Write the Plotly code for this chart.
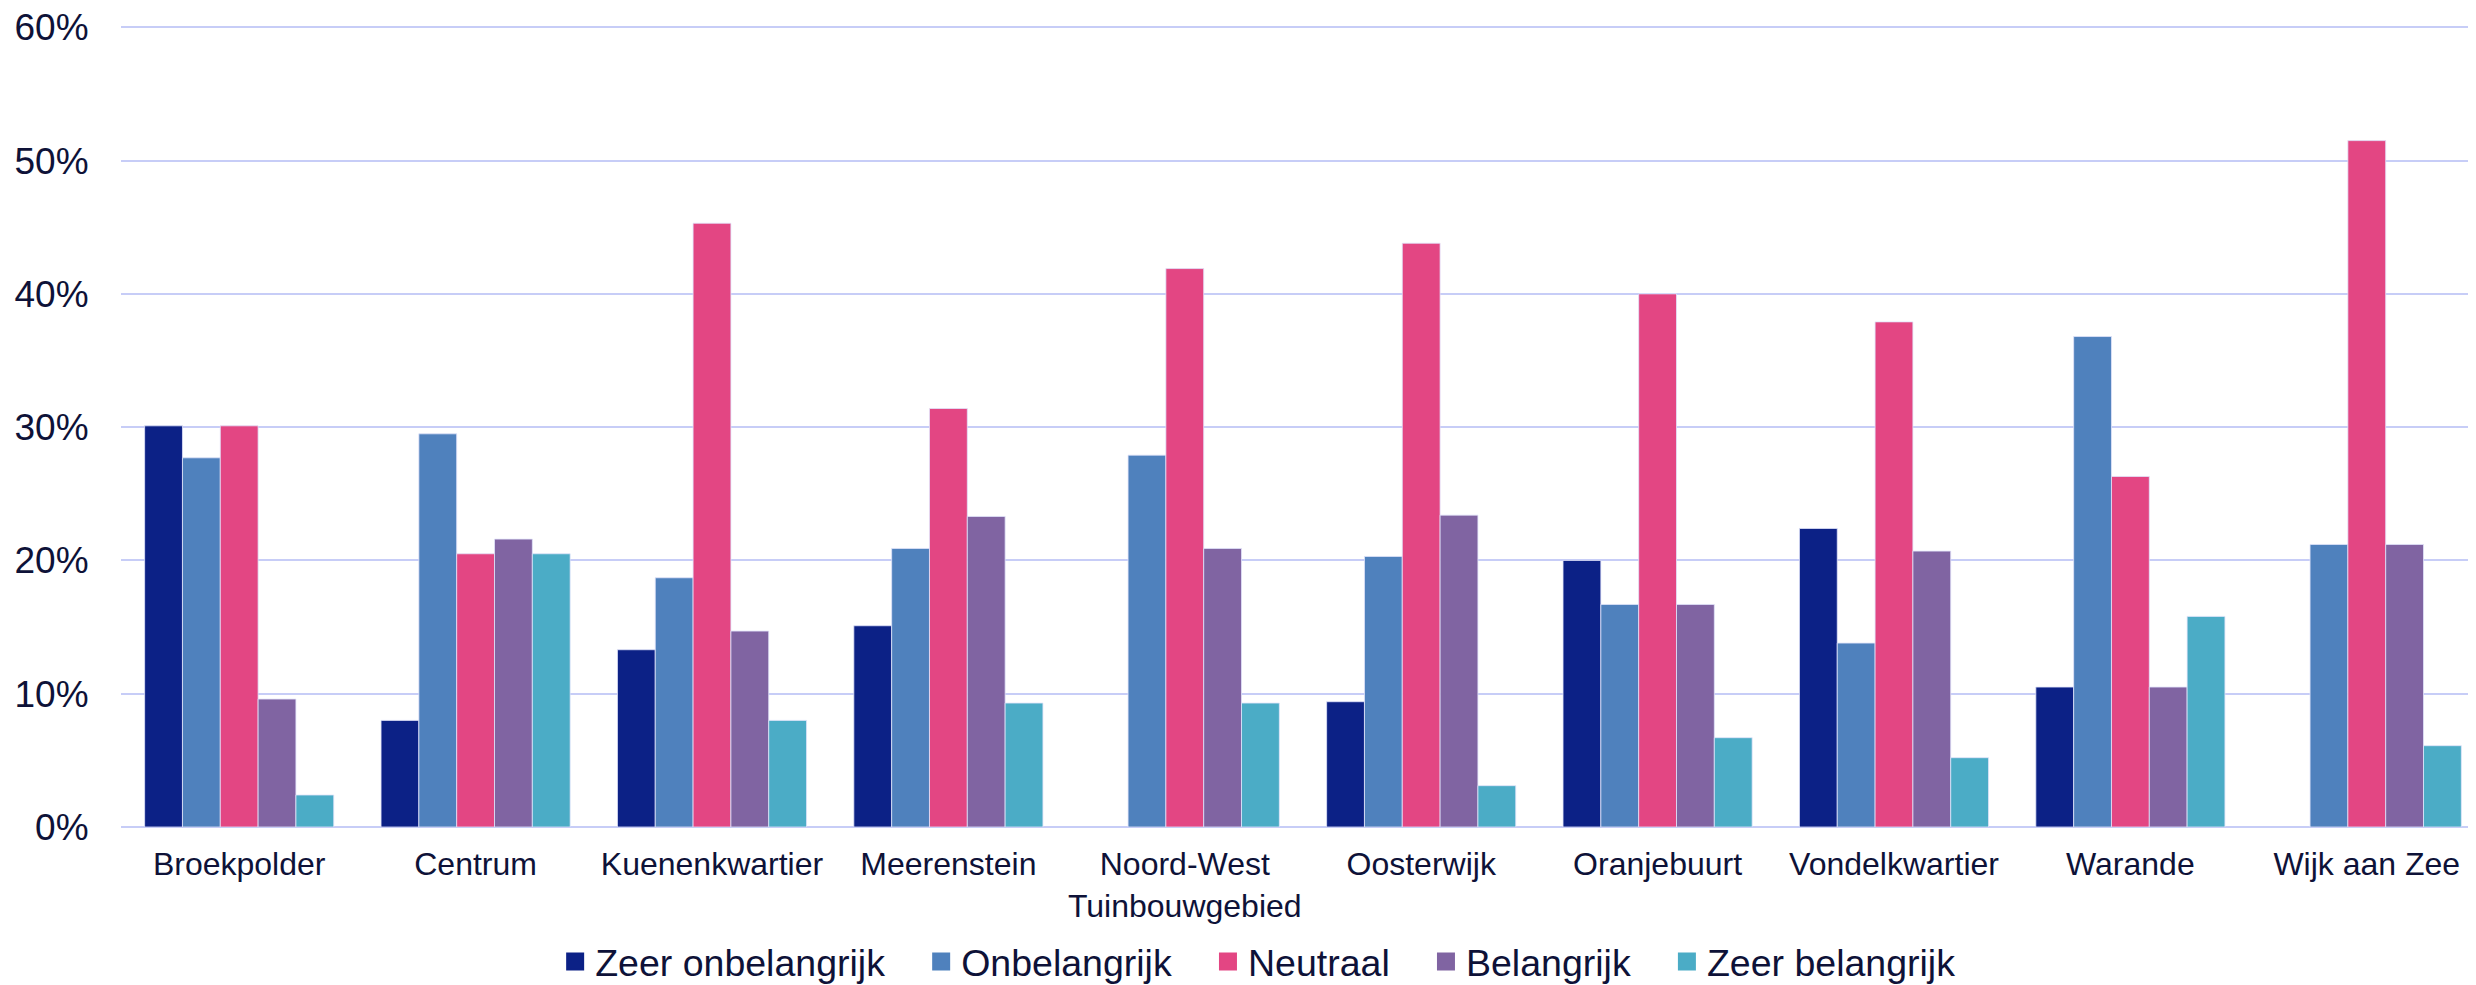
import plotly.graph_objects as go

wijken = ["Broekpolder", "Centrum", "Kuenenkwartier", "Meerenstein", "Noord-West<br>Tuinbouwgebied",
          "Oosterwijk", "Oranjebuurt", "Vondelkwartier", "Warande", "Wijk aan Zee"]

zeer_onbelangrijk = [0.301, 0.080, 0.133, 0.151, 0.000, 0.094, 0.200, 0.224, 0.105, 0.000]
onbelangrijk = [0.277, 0.295, 0.187, 0.209, 0.279, 0.203, 0.167, 0.138, 0.368, 0.212]
neutraal = [0.301, 0.205, 0.453, 0.314, 0.419, 0.438, 0.400, 0.379, 0.263, 0.515]
belangrijk = [0.096, 0.216, 0.147, 0.233, 0.209, 0.234, 0.167, 0.207, 0.105, 0.212]
zeer_belangrijk = [0.024, 0.205, 0.080, 0.093, 0.093, 0.031, 0.067, 0.052, 0.158, 0.061]

series = [
    ("Zeer onbelangrijk", zeer_onbelangrijk, "#0c2186"),
    ("Onbelangrijk", onbelangrijk, "#4f81bd"),
    ("Neutraal", neutraal, "#e34683"),
    ("Belangrijk", belangrijk, "#8064a2"),
    ("Zeer belangrijk", zeer_belangrijk, "#4bacc6"),
]

text_color = "#0e1238"
grid_color = "#c7cdf7"
pad = "\u00a0" * 3

fig = go.Figure()
for i, (name, values, color) in enumerate(series):
    # no outline on empty bars, otherwise a thin stub shows at 0%
    edge = [1 if v > 0 else 0 for v in values]
    fig.add_trace(go.Bar(name=name, x=wijken, y=values, showlegend=False,
                         marker=dict(color=color, line=dict(color="rgba(225,228,250,0.8)", width=edge))))
    # legend entry with a bigger square
    label = name if i == len(series) - 1 else name + pad
    fig.add_trace(go.Scatter(name=label, x=[None], y=[None], mode="markers",
                             marker=dict(symbol="square", size=16, color=color,
                                         line=dict(color=color, width=2))))

# page body adds an 8px margin, so the figure is a bit smaller than the window
fig.update_layout(
    width=2468, height=977,
    margin=dict(l=113, r=0, t=18, b=158),
    paper_bgcolor="white", plot_bgcolor="white",
    barmode="group", bargap=0.2, bargroupgap=0,
    font=dict(family="Liberation Sans, Arial, sans-serif", color=text_color),
    legend=dict(
        orientation="h",
        xref="container", x=0.2217, xanchor="left",
        yref="container", y=0.024, yanchor="middle",
        font=dict(size=37.5, color=text_color),
        itemwidth=30,
    ),
)
fig.update_xaxes(range=[-0.5, 9.462], showgrid=False, showline=False,
                 tickfont=dict(size=32, color=text_color), ticks="outside",
                 ticklen=9, tickcolor="rgba(0,0,0,0)")
fig.update_yaxes(range=[0, 0.601], tickvals=[0, 0.1, 0.2, 0.3, 0.4, 0.5, 0.6], tickformat=".0%",
                 showgrid=True, gridcolor=grid_color, gridwidth=2,
                 zeroline=True, zerolinecolor=grid_color, zerolinewidth=2,
                 tickfont=dict(size=37, color=text_color), ticklabeloverflow="allow",
                 ticks="outside", ticklen=24, tickcolor="rgba(0,0,0,0)")

fig.write_html("out.html")
